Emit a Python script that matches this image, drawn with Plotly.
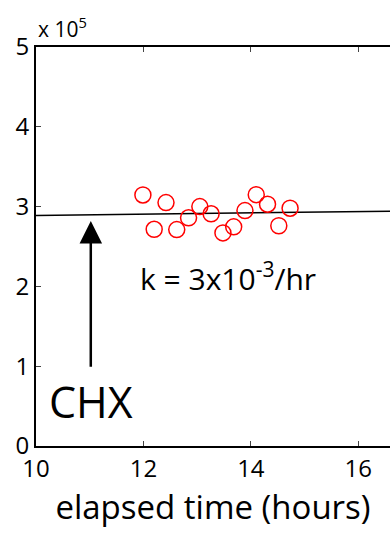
import plotly.graph_objects as go

# data
time_h = [11.99, 12.20, 12.42, 12.62, 12.84, 13.05, 13.26, 13.48, 13.68, 13.89, 14.10, 14.31, 14.52, 14.73]
counts = [314600, 271600, 305000, 271200, 286000, 300000, 291000, 267000, 274600, 295000, 315000, 303000, 276000, 298000]
fit_t = [10.0, 16.6]
fit_counts = [288800, 294300]
x_ticks = [10, 12, 14, 16]
y_ticks = [0, 100000, 200000, 300000, 400000, 500000]
y_ticktext = ["0", "1", "2", "3", "4", "5"]
arrow_t = 11.02
arrow_from, arrow_to = 97500, 282000

FONT = "Open Sans"

fig = go.Figure()
fig.add_trace(go.Scatter(x=fit_t, y=fit_counts, mode="lines",
                         line=dict(color="black", width=1.5), showlegend=False, hoverinfo="skip"))
fig.add_trace(go.Scatter(x=time_h, y=counts, mode="markers",
                         marker=dict(symbol="circle-open", size=16, color="red", line=dict(width=1.5, color="red")),
                         showlegend=False))

fig.add_annotation(x=arrow_t, y=arrow_to, ax=arrow_t, ay=arrow_from, xref="x", yref="y",
                   axref="x", ayref="y", showarrow=True, arrowhead=2, arrowsize=1.8,
                   arrowwidth=2.5, arrowcolor="black", text="")
fig.add_annotation(x=arrow_t, y=arrow_from, xref="x", yref="y", text="CHX", showarrow=False,
                   yanchor="top", yshift=-2, font=dict(family=FONT, size=43, color="black"))
fig.add_annotation(x=13.57, y=212000, xref="x", yref="y",
                   text="k = 3x10<sup style='font-size:75%'>-3</sup>/hr", showarrow=False,
                   font=dict(family=FONT, size=30, color="black"))
fig.add_annotation(x=0, y=1, xref="paper", yref="paper", text="x 10<sup>5</sup>", showarrow=False,
                   xanchor="left", yanchor="bottom", yshift=2,
                   font=dict(family=FONT, size=21, color="black"))

fig.update_layout(
    width=390, height=533,
    margin=dict(l=36, r=0, t=47, b=87),
    paper_bgcolor="white", plot_bgcolor="white",
    font=dict(family=FONT, color="black"),
    xaxis=dict(range=[10, 16.59], tickvals=x_ticks, ticks="inside", ticklen=5, tickwidth=1,
               showline=True, linewidth=2, linecolor="black", mirror="ticks", showgrid=False,
               zeroline=False, tickfont=dict(size=24, family=FONT),
               title=dict(text="elapsed time (hours)", font=dict(size=33, family=FONT), standoff=4)),
    yaxis=dict(range=[0, 500000], tickvals=y_ticks, ticktext=y_ticktext, ticks="inside", ticklen=5,
               tickwidth=1, showline=True, linewidth=2, linecolor="black", showgrid=False,
               zeroline=False, tickfont=dict(size=24, family=FONT)),
)
fig.write_html("out.html")
